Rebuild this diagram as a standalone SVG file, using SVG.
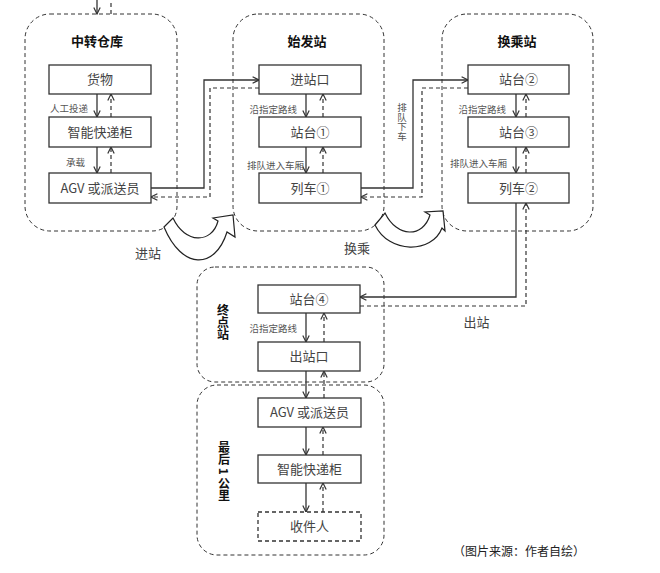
<svg xmlns="http://www.w3.org/2000/svg" width="660" height="573" viewBox="0 0 660 573">
<style>
  text { font-family: "Noto Sans CJK SC", "Noto Sans", sans-serif; }
  .grp { fill: none; stroke: #333; stroke-width: 1; stroke-dasharray: 4 3; }
  .box { fill: #fff; stroke: #333; stroke-width: 1.3; }
  .dbox { fill: #fff; stroke: #333; stroke-width: 1.3; stroke-dasharray: 4 3; }
  .bt { font-size: 13px; fill: #444; text-anchor: middle; }
  .tt { font-size: 13px; font-weight: bold; fill: #111; text-anchor: middle; }
  .vt { font-size: 12px; font-weight: bold; fill: #111; text-anchor: start; }
  .lb { font-size: 9.5px; fill: #555; text-anchor: end; }
  .big { font-size: 13px; fill: #444; text-anchor: middle; }
  .s { fill: none; stroke: #333; stroke-width: 1.3; }
  .d { fill: none; stroke: #333; stroke-width: 1.2; stroke-dasharray: 4 3; }
  .curv { fill: #fff; stroke: #222; stroke-width: 1.2; stroke-linejoin: miter; }
</style>
<defs>
  <marker id="arr" viewBox="0 0 10 10" refX="9" refY="5" markerWidth="8" markerHeight="8" markerUnits="userSpaceOnUse" orient="auto">
    <path d="M1,1 L9,5 L1,9" fill="none" stroke="#333" stroke-width="1.5"/>
  </marker>
</defs>
<rect width="660" height="573" fill="#fff"/>

<g id="group-zhongzhuan">
  <rect class="grp" x="25" y="14" width="152" height="217" rx="25"/>
  <text class="tt" x="97" y="46">中转仓库</text>
</g>
<g id="group-shifa">
  <rect class="grp" x="233" y="14" width="151" height="217" rx="25"/>
  <text class="tt" x="307" y="46">始发站</text>
</g>
<g id="group-huancheng">
  <rect class="grp" x="442" y="14" width="151" height="217" rx="25"/>
  <text class="tt" x="517" y="46">换乘站</text>
</g>
<g id="group-zhongdian">
  <rect class="grp" x="197" y="267" width="187" height="115" rx="18"/>
  <text class="vt" x="223" y="304" writing-mode="vertical-rl">终点站</text>
</g>
<g id="group-last-mile">
  <rect class="grp" x="197" y="385" width="187" height="170" rx="20"/>
  <text class="vt" x="224" y="441" writing-mode="vertical-rl">最后 1 公里</text>
</g>

<g id="connectors">
  <!-- incoming from top -->
  <path class="s" d="M97,0 V14" marker-end="url(#arr)"/>
  <path class="d" d="M111,14 V0"/>
  <!-- group 1 -->
  <path class="s" d="M97,94 V117" marker-end="url(#arr)"/>
  <path class="d" d="M111,117 V94" marker-end="url(#arr)"/>
  <path class="s" d="M97,147 V173" marker-end="url(#arr)"/>
  <path class="d" d="M111,173 V147" marker-end="url(#arr)"/>
  <!-- group 2 -->
  <path class="s" d="M306,94 V117" marker-end="url(#arr)"/>
  <path class="d" d="M323,117 V94" marker-end="url(#arr)"/>
  <path class="s" d="M306,147 V173" marker-end="url(#arr)"/>
  <path class="d" d="M323,173 V147" marker-end="url(#arr)"/>
  <!-- group 3 -->
  <path class="s" d="M516,94 V117" marker-end="url(#arr)"/>
  <path class="d" d="M526,117 V94" marker-end="url(#arr)"/>
  <path class="s" d="M516,147 V173" marker-end="url(#arr)"/>
  <path class="d" d="M526,173 V147" marker-end="url(#arr)"/>
  <!-- group 4 -->
  <path class="s" d="M306,313 V342" marker-end="url(#arr)"/>
  <path class="d" d="M324,342 V313" marker-end="url(#arr)"/>
  <path class="s" d="M306,371 V398" marker-end="url(#arr)"/>
  <path class="d" d="M324,398 V371" marker-end="url(#arr)"/>
  <!-- group 5 -->
  <path class="s" d="M306,427 V455" marker-end="url(#arr)"/>
  <path class="d" d="M323,455 V427" marker-end="url(#arr)"/>
  <path class="s" d="M306,483 V512" marker-end="url(#arr)"/>
  <path class="d" d="M323,512 V483" marker-end="url(#arr)"/>
  <!-- 1 -> 2 -->
  <path class="s" d="M151,188 H204 V80 H259" marker-end="url(#arr)"/>
  <path class="d" d="M259,88 H210 V197 H151" marker-end="url(#arr)"/>
  <!-- 2 -> 3 -->
  <path class="s" d="M361,188 H413 V80 H468" marker-end="url(#arr)"/>
  <path class="d" d="M468,88 H422 V197 H361" marker-end="url(#arr)"/>
  <!-- 3 -> 4 -->
  <path class="s" d="M516,203 V297 H360" marker-end="url(#arr)"/>
  <path class="d" d="M360,306 H526 V203" marker-end="url(#arr)"/>
  <!-- labels -->
  <text class="lb" x="88" y="112">人工投递</text>
  <text class="lb" x="85" y="166">承载</text>
  <text class="lb" x="297" y="113">沿指定路线</text>
  <text class="lb" x="304" y="169">排队进入车厢</text>
  <text class="lb" x="506" y="113">沿指定路线</text>
  <text class="lb" x="507" y="167">排队进入车厢</text>
  <text class="lb" x="297" y="332">沿指定路线</text>
  <text x="402" y="103" writing-mode="vertical-rl" style="font-size:9.5px; fill:#555; text-anchor:start">排队下车</text>
  <!-- curved transfer arrows -->
  <path class="curv" d="M164,227 L173,218 C185,244 212,244 218,221 L213,218 L233,215 L235,237 L227,232 C215,270 182,270 164,227 Z"/>
  <path class="curv" d="M375,225 L385,213 C397,238 423,238 430,215 L425,212 L443,211 L445,231 L442,228 C432,254 389,254 375,225 Z"/>
  <text class="big" x="148" y="257.5">进站</text>
  <text class="big" x="357" y="252.5">换乘</text>
  <text class="big" x="476.5" y="326.5">出站</text>
</g>

<g id="node-huowu">
  <rect class="box" x="49" y="65" width="102" height="29"/>
  <text class="bt" x="100" y="84">货物</text>
</g>
<g id="node-gui1">
  <rect class="box" x="49" y="117" width="102" height="30"/>
  <text class="bt" x="100" y="136.5">智能快递柜</text>
</g>
<g id="node-agv1">
  <rect class="box" x="49" y="173" width="102" height="30"/>
  <text class="bt" x="100" y="192.5">AGV 或派送员</text>
</g>
<g id="node-jinzhankou">
  <rect class="box" x="259" y="65" width="102" height="29"/>
  <text class="bt" x="310" y="84">进站口</text>
</g>
<g id="node-zhantai1">
  <rect class="box" x="259" y="117" width="102" height="30"/>
  <text class="bt" x="310" y="136.5">站台①</text>
</g>
<g id="node-lieche1">
  <rect class="box" x="259" y="173" width="102" height="30"/>
  <text class="bt" x="310" y="192.5">列车①</text>
</g>
<g id="node-zhantai2">
  <rect class="box" x="468" y="65" width="101" height="29"/>
  <text class="bt" x="518.5" y="84">站台②</text>
</g>
<g id="node-zhantai3">
  <rect class="box" x="468" y="117" width="101" height="30"/>
  <text class="bt" x="518.5" y="136.5">站台③</text>
</g>
<g id="node-lieche2">
  <rect class="box" x="468" y="173" width="101" height="30"/>
  <text class="bt" x="518.5" y="192.5">列车②</text>
</g>
<g id="node-zhantai4">
  <rect class="box" x="258" y="285" width="102" height="28"/>
  <text class="bt" x="309" y="303.5">站台④</text>
</g>
<g id="node-chuzhankou">
  <rect class="box" x="258" y="342" width="102" height="29"/>
  <text class="bt" x="309" y="361">出站口</text>
</g>
<g id="node-agv2">
  <rect class="box" x="258" y="398" width="103" height="29"/>
  <text class="bt" x="309.5" y="417">AGV 或派送员</text>
</g>
<g id="node-gui2">
  <rect class="box" x="258" y="455" width="103" height="28"/>
  <text class="bt" x="309.5" y="473.5">智能快递柜</text>
</g>
<g id="node-shoujianren">
  <rect class="dbox" x="258" y="512" width="103" height="29"/>
  <text class="bt" x="309.5" y="531">收件人</text>
</g>

<text x="453" y="556" style="font-size:12px; fill:#222">（图片来源：作者自绘）</text>
</svg>
